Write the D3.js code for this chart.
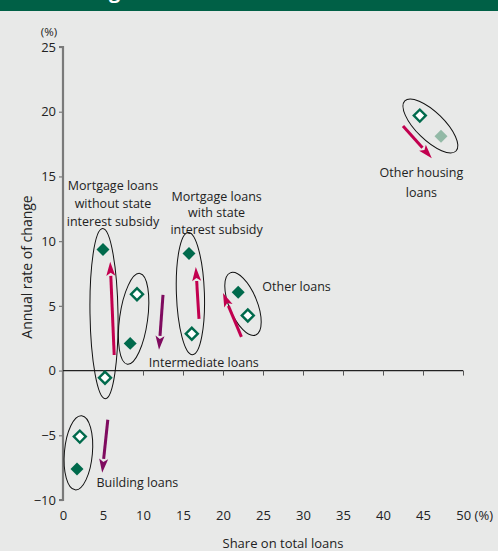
<!DOCTYPE html>
<html>
<head>
<meta charset="utf-8">
<script src="https://cdn.jsdelivr.net/npm/d3@7"></script>
<style>
  html, body { margin: 0; padding: 0; background: #e8e9e8; }
  svg { display: block; }
  text { font-family: "Open Sans", "Noto Sans", sans-serif; fill: #222; }
</style>
</head>
<body>
<svg id="chart" width="498" height="551"></svg>
<script>
// ---- Data ----
const categories = [
  "Mortgage loans without state interest subsidy",
  "Intermediate loans",
  "Mortgage loans with state interest subsidy",
  "Other loans",
  "Other housing loans",
  "Building loans"
];
// previous period (open diamonds)
const sharePrev  = [5.25, 9.25, 16.1, 23.1, 44.6, 2.1];
const growthPrev = [-0.55, 5.9, 2.85, 4.25, 19.7, -5.1];
// current period (filled diamonds)
const shareCur   = [5.0, 8.4, 15.75, 21.9, 47.25, 1.75];
const growthCur  = [9.35, 2.1, 9.05, 6.05, 18.1, -7.6];

const xTicks = [0, 5, 10, 15, 20, 25, 30, 35, 40, 45, 50];
const yTicks = [-10, -5, 0, 5, 10, 15, 20, 25];

// arrows (data units): from -> to
const arrowFromX = [6.4, 12.5, 17.0, 22.3, 42.5, 5.6];
const arrowFromY = [1.2, 5.85, 4.0, 2.6, 18.9, -3.8];
const arrowToX   = [5.9, 12.0, 16.6, 20.0, 46.1, 4.9];
const arrowToY   = [8.4, 1.6, 8.0, 6.0, 16.4, -7.9];
const arrowUp    = [true, false, true, true, true, false];

// category label lines and anchors (data units, centre of first line)
const labelLines = [
  ["Mortgage loans", "without state", "interest subsidy"],
  ["Intermediate loans"],
  ["Mortgage loans", "with state", "interest subsidy"],
  ["Other loans"],
  ["Other housing", "loans"],
  ["Building loans"]
];
const labelX = [6.25, 17.6, 19.2, 29.2, 44.8, 9.3];
const labelY = [14.3, 0.6, 13.45, 6.5, 15.3, -8.65];

// ---- Layout ----
const svg = d3.select("#chart");
const W = 498, H = 551;
const x = d3.scaleLinear().domain([0, 50]).range([63, 463]);
const y = d3.scaleLinear().domain([-10, 25]).range([500, 47]);

// background
svg.append("rect").attr("width", W).attr("height", H).attr("fill", "#e8e9e8");
// banner
svg.append("rect").attr("x", 0).attr("y", 0).attr("width", W).attr("height", 11).attr("fill", "#006046");
svg.append("clipPath").attr("id", "bclip").append("rect").attr("width", W).attr("height", 11);
svg.append("text").attr("x", 12).attr("y", -2).attr("clip-path", "url(#bclip)")
  .style("fill", "#fff").style("font-size", "20px").style("font-weight", "bold")
  .text("Loan categories");

// y axis
const yAxis = svg.append("g").attr("transform", `translate(${x(0)},0)`)
  .call(d3.axisLeft(y).tickValues(yTicks).tickSize(4).tickFormat(d3.format("d")));
yAxis.select(".domain").attr("stroke", "#7a7a7a").attr("stroke-width", 2.2);
yAxis.selectAll(".tick line").attr("stroke", "#7a7a7a").attr("stroke-width", 1.2);
yAxis.selectAll(".tick text").attr("x", -7).style("font-size", "13px")
  .style("font-family", "'Open Sans', sans-serif").attr("fill", "#222");
yAxis.select(".domain").attr("d", `M-4,${y(25)}H0V${y(-10)}H-4`);

// x axis on zero line
const xAxis = svg.append("g").attr("transform", `translate(0,${y(0)})`)
  .call(d3.axisBottom(x).tickValues(xTicks).tickSize(5).tickFormat(d => d === 50 ? "50 (%)" : d));
xAxis.select(".domain").attr("stroke", "#222").attr("stroke-width", 1.3).attr("d", `M${x(0)},0H${x(50)}`);
xAxis.selectAll(".tick line").attr("stroke", "#555");
xAxis.selectAll(".tick").filter(d => d === 0).select("line").remove();
xAxis.selectAll(".tick text")
  .attr("y", y(-10) - y(0) + 11)
  .attr("dy", "0.71em")
  .style("font-size", "13px").style("font-family", "'Open Sans', sans-serif").attr("fill", "#222")
  .attr("text-anchor", d => d === 50 ? "start" : "middle")
  .attr("dx", d => d === 50 ? "-0.55em" : 0);

// axis titles
svg.append("text").attr("x", 49).attr("y", 36).attr("text-anchor", "middle")
  .style("font-size", "11.5px").text("(%)");
svg.append("text").attr("transform", `translate(32,${267}) rotate(-90)`).attr("text-anchor", "middle")
  .style("font-size", "14px").text("Annual rate of change");
svg.append("text").attr("x", 283).attr("y", 548).attr("text-anchor", "middle")
  .style("font-size", "13px").text("Share on total loans");

// ellipses around pairs
const pairs = categories.map((c, i) => ({
  i,
  p0: [x(sharePrev[i]), y(growthPrev[i])],
  p1: [x(shareCur[i]), y(growthCur[i])]
}));
svg.append("g").selectAll("ellipse").data(pairs).join("ellipse")
  .attr("cx", 0).attr("cy", 0)
  .attr("rx", 14)
  .attr("ry", d => Math.hypot(d.p1[0] - d.p0[0], d.p1[1] - d.p0[1]) / 2 + 21)
  .attr("transform", d => {
    const cx = (d.p0[0] + d.p1[0]) / 2, cy = (d.p0[1] + d.p1[1]) / 2;
    const ang = Math.atan2(-(d.p1[0] - d.p0[0]), d.p1[1] - d.p0[1]) * 180 / Math.PI;
    return `translate(${cx},${cy}) rotate(${ang})`;
  })
  .attr("fill", "none").attr("stroke", "#111").attr("stroke-width", 1);

// arrows
const arrows = categories.map((c, i) => ({
  x1: x(arrowFromX[i]), y1: y(arrowFromY[i]), x2: x(arrowToX[i]), y2: y(arrowToY[i]), up: arrowUp[i]
}));
const ag = svg.append("g");
arrows.forEach(a => {
  const col = a.up ? "#c2004f" : "#7f0b5f";
  const dx = a.x2 - a.x1, dy = a.y2 - a.y1, L = Math.hypot(dx, dy);
  const ux = dx / L, uy = dy / L;
  const headL = 14, headW = 4.5;
  const bx = a.x2 - ux * headL, by = a.y2 - uy * headL;
  ag.append("line").attr("x1", a.x1).attr("y1", a.y1).attr("x2", bx).attr("y2", by)
    .attr("stroke", col).attr("stroke-width", 3);
  ag.append("path")
    .attr("d", `M${a.x2},${a.y2}L${bx - uy * headW},${by + ux * headW}L${bx + ux * 3},${by + uy * 3}L${bx + uy * headW},${by - ux * headW}Z`)
    .attr("fill", col);
});

// diamonds
svg.append("g").selectAll("path.prev").data(categories).join("path")
  .attr("class", "prev")
  .attr("d", d3.symbol().type(d3.symbolSquare).size(72)())
  .attr("transform", (d, i) => `translate(${x(sharePrev[i])},${y(growthPrev[i])}) rotate(45)`)
  .attr("fill", "#fff").attr("stroke", "#006a4c").attr("stroke-width", 2.4);
svg.append("g").selectAll("path.cur").data(categories).join("path")
  .attr("class", "cur")
  .attr("d", d3.symbol().type(d3.symbolSquare).size(84)())
  .attr("transform", (d, i) => `translate(${x(shareCur[i])},${y(growthCur[i])}) rotate(45)`)
  .attr("fill", (d, i) => i === 4 ? "#92b9a6" : "#006a4c");

// labels
const lineSpacing = [18, 16, 16.5, 16, 20, 16];
labelLines.forEach((lines, i) => {
  const t = svg.append("text").attr("text-anchor", "middle")
    .style("font-size", "12.5px");
  lines.forEach((ln, k) => {
    t.append("tspan").attr("x", x(labelX[i])).attr("y", y(labelY[i]) + 4.5 + k * lineSpacing[i]).text(ln);
  });
});
</script>
</body>
</html>
